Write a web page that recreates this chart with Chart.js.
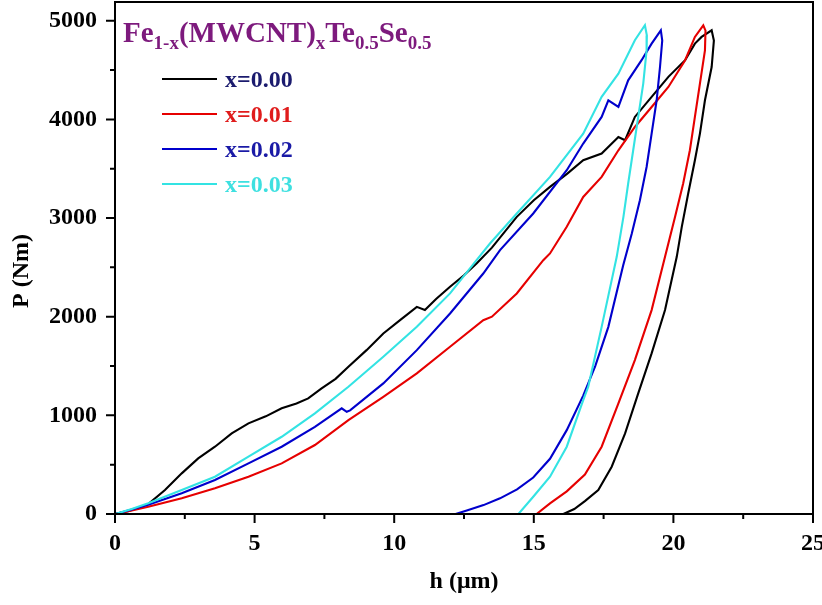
<!DOCTYPE html>
<html>
<head>
<meta charset="utf-8">
<script src="https://cdn.jsdelivr.net/npm/chart.js@4.4.1/dist/chart.umd.min.js"></script>
<style>
html,body{margin:0;padding:0;background:#fff;}
#wrap{width:822px;height:605px;}
</style>
</head>
<body>
<div id="wrap"><canvas id="c" width="822" height="605"></canvas></div>
<script>
// ---- data ----
const seriesLabels = ['x=0.00', 'x=0.01', 'x=0.02', 'x=0.03'];

// x = 0.00 (loading then unloading)
const h00 = [0, 0.5, 1.19, 1.79, 2.39, 2.98, 3.58, 4.18, 4.78, 5.4, 5.97, 6.5, 6.92, 7.4, 7.9, 8.36, 9.01, 9.61, 10.21, 10.81, 11.1, 11.5, 12.0, 12.5, 12.95, 13.5, 14.39, 15.0, 15.58, 16.2, 16.77, 17.43, 18.03, 18.27, 18.62, 19.22, 19.82, 20.42, 20.77, 21.01, 21.37, 21.45, 21.37, 21.13, 20.95, 20.77, 20.53, 20.30, 20.12, 19.7, 19.22, 18.74, 18.27, 17.79, 17.31, 16.83, 16.45, 16.06];
const p00 = [0, 30, 100, 243, 412, 564, 682, 817, 919, 990, 1071, 1120, 1172, 1273, 1370, 1492, 1661, 1830, 1965, 2100, 2067, 2180, 2303, 2420, 2540, 2700, 3012, 3180, 3316, 3450, 3586, 3654, 3822, 3789, 4025, 4228, 4431, 4600, 4768, 4836, 4903, 4800, 4531, 4194, 3856, 3586, 3249, 2911, 2607, 2067, 1628, 1223, 817, 479, 243, 130, 50, 0];

// x = 0.01
const h01 = [0, 0.6, 1.19, 2.39, 3.58, 4.78, 5.97, 7.16, 8.36, 9.61, 10.81, 12.0, 13.19, 13.5, 14.39, 15.34, 15.58, 16.18, 16.77, 17.43, 18.03, 18.62, 19.22, 19.82, 20.42, 20.77, 21.07, 21.15, 21.13, 20.95, 20.77, 20.59, 20.35, 20.06, 19.7, 19.22, 18.62, 18.03, 17.43, 16.83, 16.18, 15.58, 15.1];
const p01 = [0, 35, 74, 159, 260, 378, 513, 699, 952, 1188, 1425, 1695, 1965, 2000, 2236, 2573, 2641, 2911, 3214, 3417, 3687, 3923, 4126, 4329, 4600, 4836, 4954, 4900, 4700, 4363, 4025, 3687, 3350, 3012, 2607, 2067, 1560, 1121, 682, 400, 230, 108, 0];

// x = 0.02
const h02 = [0, 0.6, 1.19, 2.39, 3.58, 4.78, 5.97, 7.16, 8.12, 8.30, 8.42, 9.61, 10.81, 12.0, 13.19, 13.79, 14.98, 16.18, 16.77, 17.43, 17.67, 18.03, 18.38, 18.86, 19.22, 19.55, 19.6, 19.52, 19.40, 19.22, 19.04, 18.80, 18.51, 18.2, 17.67, 17.2, 16.77, 16.18, 15.58, 14.98, 14.4, 13.79, 13.2, 12.6, 12.2];
const p02 = [0, 45, 95, 210, 344, 513, 682, 884, 1071, 1036, 1050, 1324, 1661, 2033, 2438, 2675, 3046, 3485, 3755, 4025, 4194, 4126, 4396, 4600, 4768, 4903, 4800, 4531, 4194, 3856, 3518, 3181, 2844, 2520, 1897, 1500, 1200, 850, 560, 370, 250, 159, 90, 35, 0];

// x = 0.03
const h03 = [0, 0.6, 1.19, 2.39, 3.58, 4.78, 5.97, 7.16, 8.36, 9.61, 10.81, 12.0, 12.95, 13.43, 14.39, 15.58, 16.77, 17.43, 18.03, 18.62, 18.98, 19.05, 19.04, 18.92, 18.74, 18.56, 18.38, 18.21, 17.97, 17.43, 16.95, 16.77, 16.18, 15.58, 14.98, 14.45];
const p03 = [0, 50, 110, 243, 378, 581, 783, 1020, 1290, 1594, 1897, 2236, 2573, 2742, 3046, 3417, 3856, 4228, 4464, 4802, 4954, 4850, 4700, 4363, 4025, 3687, 3350, 3012, 2607, 1897, 1290, 1155, 682, 378, 175, 0];

const xTicks = [0, 5, 10, 15, 20, 25];
const yTicks = [0, 1000, 2000, 3000, 4000, 5000];

// ---- styling ----
const lineColors = ['#000000', '#e60000', '#0000cc', '#33e3e3'];
const legendTextColors = ['#1b1b6e', '#e01c1c', '#1a1aa6', '#3ee0e0'];
const FONT = "'Liberation Serif', 'Times New Roman', serif";

const H = [h00, h01, h02, h03];
const P = [p00, p01, p02, p03];

const datasets = seriesLabels.map((lab, i) => ({
  label: lab,
  data: H[i].map((h, j) => ({ x: h, y: P[i][j] })),
  borderColor: lineColors[i],
  backgroundColor: lineColors[i],
  borderWidth: 2.1,
  pointRadius: 0,
  fill: false,
  tension: 0,
  order: 4 - i
}));

const decor = {
  id: 'decor',
  afterDraw(chart) {
    const { ctx, chartArea: a, scales: { x, y } } = chart;
    ctx.save();
    // frame
    ctx.strokeStyle = '#000';
    ctx.lineWidth = 2;
    ctx.strokeRect(a.left, a.top, a.right - a.left, a.bottom - a.top);
    // ticks (outward)
    ctx.beginPath();
    xTicks.forEach((v, i) => {
      const px = x.getPixelForValue(v);
      ctx.moveTo(px, a.bottom); ctx.lineTo(px, a.bottom + 9);
      if (i < xTicks.length - 1) {
        const m = x.getPixelForValue((v + xTicks[i + 1]) / 2);
        ctx.moveTo(m, a.bottom); ctx.lineTo(m, a.bottom + 5);
      }
    });
    yTicks.forEach((v, i) => {
      const py = y.getPixelForValue(v);
      ctx.moveTo(a.left, py); ctx.lineTo(a.left - 9, py);
      if (i < yTicks.length - 1) {
        const m = y.getPixelForValue((v + yTicks[i + 1]) / 2);
        ctx.moveTo(a.left, m); ctx.lineTo(a.left - 5, m);
      }
    });
    ctx.stroke();

    // axis titles
    ctx.fillStyle = '#000';
    ctx.font = "bold 24px " + FONT;
    ctx.textAlign = 'center';
    ctx.textBaseline = 'middle';
    ctx.fillText('h (\u03bcm)', (a.left + a.right) / 2, 582);
    ctx.save();
    ctx.translate(22, 271);
    ctx.rotate(-Math.PI / 2);
    ctx.fillText('P (Nm)', 0, 0);
    ctx.restore();

    // legend title: Fe1-x(MWCNT)xTe0.5Se0.5
    const parts = [['Fe', 0], ['1-x', 1], ['(MWCNT)', 0], ['x', 1], ['Te', 0], ['0.5', 1], ['Se', 0], ['0.5', 1]];
    let tx = 123;
    const base = 41.5;
    ctx.textAlign = 'left';
    ctx.textBaseline = 'alphabetic';
    ctx.fillStyle = '#7d1a7d';
    parts.forEach(([t, sub]) => {
      ctx.font = sub ? "bold 19px " + FONT : "bold 29px " + FONT;
      ctx.fillText(t, tx, sub ? base + 7.5 : base);
      tx += ctx.measureText(t).width;
    });

    // legend entries
    ctx.font = "bold 24px " + FONT;
    chart.data.datasets.forEach((ds, i) => {
      const ly = 79 + i * 35;
      ctx.strokeStyle = ds.borderColor;
      ctx.lineWidth = 2;
      ctx.beginPath();
      ctx.moveTo(162, ly); ctx.lineTo(217, ly);
      ctx.stroke();
      ctx.fillStyle = legendTextColors[i];
      ctx.fillText(ds.label, 225, ly + 8);
    });
    ctx.restore();
  }
};

new Chart(document.getElementById('c'), {
  type: 'line',
  data: { datasets },
  options: {
    responsive: false,
    animation: false,
    devicePixelRatio: 1,
    layout: { padding: { left: 0, top: 2, right: 9, bottom: 0 } },
    plugins: { legend: { display: false }, tooltip: { enabled: false } },
    scales: {
      x: {
        type: 'linear', min: 0, max: 25,
        grid: { display: false, drawTicks: false },
        border: { display: false },
        afterBuildTicks: s => { s.ticks = xTicks.map(v => ({ value: v })); },
        ticks: { color: '#000', font: { family: FONT, weight: 'bold', size: 24 }, padding: 15, maxRotation: 0, autoSkip: false, callback: v => String(v) },
        afterFit: s => { s.height = 91; s.paddingLeft = 0; s.paddingRight = 0; }
      },
      y: {
        type: 'linear', min: 0, max: 5190,
        grid: { display: false, drawTicks: false },
        border: { display: false },
        afterBuildTicks: s => { s.ticks = yTicks.map(v => ({ value: v })); },
        ticks: { color: '#000', font: { family: FONT, weight: 'bold', size: 24 }, padding: 18, autoSkip: false, callback: v => String(v) },
        afterFit: s => { s.width = 115; s.paddingTop = 0; s.paddingBottom = 0; }
      }
    }
  },
  plugins: [decor]
});
</script>
</body>
</html>
